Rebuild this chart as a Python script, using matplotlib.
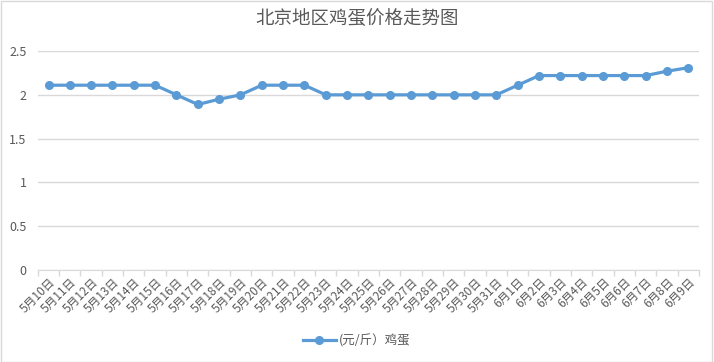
import matplotlib.pyplot as plt
from matplotlib.ticker import FuncFormatter, MultipleLocator
from matplotlib.patches import Rectangle

plt.rcParams['font.family'] = ['Noto Sans CJK SC', 'DejaVu Sans']

# 日期与价格
dates = ['5月%d日' % d for d in range(10, 32)] + ['6月%d日' % d for d in range(1, 10)]
prices = [2.11, 2.11, 2.11, 2.11, 2.11, 2.11, 2.0, 1.89, 1.95, 2.0,
          2.11, 2.11, 2.11, 2.0, 2.0, 2.0, 2.0, 2.0, 2.0, 2.0,
          2.0, 2.0, 2.11, 2.22, 2.22, 2.22, 2.22, 2.22, 2.22, 2.27, 2.31]
series_name = '(元/斤）鸡蛋'
title = '北京地区鸡蛋价格走势图'

text_color = '#595959'
grid_color = '#d9d9d9'
line_color = '#5b9bd5'

fig = plt.figure(figsize=(7.14, 3.62), dpi=100)
ax = fig.add_axes([0.053, 0.254, 0.926, 0.605])

x = list(range(len(dates)))
ax.plot(x, prices, color=line_color, lw=2.3, marker='o', ms=5.5, label=series_name)

ax.set_xlim(-0.5, len(dates) - 0.5)
ax.set_ylim(0, 2.5)
ax.yaxis.set_major_locator(MultipleLocator(0.5))
ax.yaxis.set_major_formatter(FuncFormatter(lambda v, p: '%g' % v))
ax.grid(axis='y', color=grid_color, lw=1)
ax.set_axisbelow(True)

ax.set_xticks(x)
ax.set_xticklabels(dates, rotation=45, ha='right', rotation_mode='anchor', fontsize=8.5, color=text_color)
ax.set_xticks([i - 0.5 for i in range(len(dates) + 1)], minor=True)
ax.tick_params(axis='x', which='major', length=0, pad=4)
ax.tick_params(axis='x', which='minor', length=4, color=grid_color, width=1)
ax.tick_params(axis='y', length=0, labelsize=9, labelcolor=text_color, pad=8)

for s in ['top', 'right', 'left']:
    ax.spines[s].set_visible(False)
ax.spines['bottom'].set_color(grid_color)

fig.text(0.5, 0.945, title, ha='center', va='center', fontsize=13.3, color=text_color)

fig.legend(loc='center', bbox_to_anchor=(0.5, 0.058), frameon=False, fontsize=9,
           labelcolor=text_color, handlelength=2.6, handletextpad=0.3)

fig.patches.append(Rectangle((0.001, 0.001), 0.996, 0.996, transform=fig.transFigure,
                             fill=False, edgecolor=grid_color, lw=1))

fig.savefig('out.png', dpi=100)
